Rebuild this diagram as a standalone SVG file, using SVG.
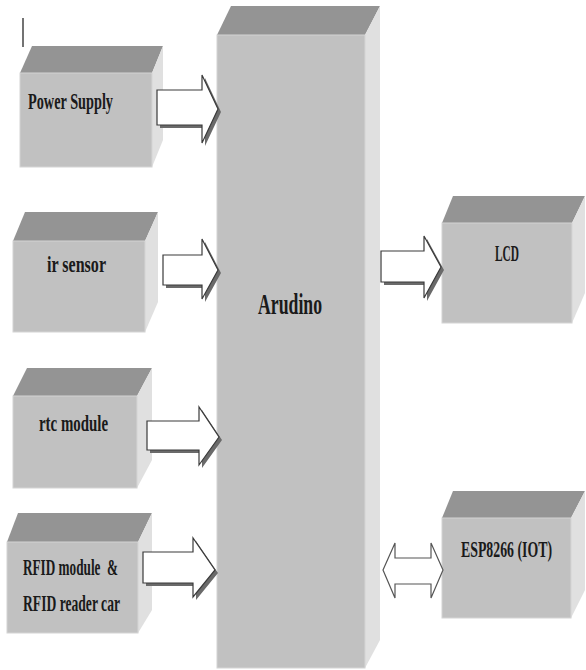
<svg xmlns="http://www.w3.org/2000/svg" width="586" height="670" viewBox="0 0 586 670">
<defs>
<style>
.front{fill:#c1c1c1;stroke:#d4d4d4;stroke-width:1}
.top{fill:#949494}
.side{fill:#e0e0e0}
.lbl{font-family:"Liberation Serif","Times New Roman",serif;font-weight:bold;font-size:23px;fill:#1a1a1a}
.big{font-size:30px}
.arr{fill:#ffffff;stroke:#3a3a3a;stroke-width:1.2;stroke-linejoin:miter}
.shd{fill:#6a6a6a}
.dbl{fill:#ffffff;stroke:#555555;stroke-width:1.2}
</style>
</defs>
<rect width="586" height="670" fill="#ffffff"/>
<line x1="23" y1="18" x2="23" y2="47" stroke="#444444" stroke-width="1.5"/>

<g id="arudino">
<polygon class="top" points="217,35 231,6 380,6 365,35"/>
<polygon class="side" points="365,35 380,6 380,640 365,668"/>
<rect class="front" x="217" y="35" width="148" height="633"/>
<text class="lbl big" transform="translate(258,314) scale(0.65,1)" textLength="98.5" lengthAdjust="spacingAndGlyphs">Arudino</text>
</g>

<g id="power-supply">
<polygon class="top" points="20,73 32,46 163,46 152,73"/>
<polygon class="side" points="152,73 163,46 163,140 152,167"/>
<rect class="front" x="20" y="73" width="132" height="94"/>
<text class="lbl" transform="translate(28,109) scale(0.65,1)" textLength="130.8" lengthAdjust="spacingAndGlyphs">Power Supply</text>
</g>

<g id="ir-sensor">
<polygon class="top" points="13,241 25,212 158,212 145,241"/>
<polygon class="side" points="145,241 158,212 158,302 145,332"/>
<rect class="front" x="13" y="241" width="132" height="91"/>
<text class="lbl" transform="translate(47,272) scale(0.65,1)" textLength="90.8" lengthAdjust="spacingAndGlyphs">ir sensor</text>
</g>

<g id="rtc-module">
<polygon class="top" points="13,396 27,368 152,368 137,396"/>
<polygon class="side" points="137,396 152,368 152,460 137,488"/>
<rect class="front" x="13" y="396" width="124" height="92"/>
<text class="lbl" transform="translate(39,431) scale(0.65,1)" textLength="106.2" lengthAdjust="spacingAndGlyphs">rtc module</text>
</g>

<g id="rfid">
<polygon class="top" points="7,542 18,513 152,513 138,542"/>
<polygon class="side" points="138,542 152,513 152,610 138,633"/>
<rect class="front" x="7" y="542" width="131" height="91"/>
<text class="lbl" transform="translate(23,575) scale(0.65,1)" textLength="146.2" lengthAdjust="spacingAndGlyphs" xml:space="preserve">RFID module  &amp;</text>
<text class="lbl" transform="translate(23,611) scale(0.65,1)" textLength="149.2" lengthAdjust="spacingAndGlyphs">RFID reader car</text>
</g>

<g id="lcd">
<polygon class="top" points="442,223 453,196 585,196 572,223"/>
<polygon class="side" points="572,223 585,196 585,293 572,323"/>
<rect class="front" x="442" y="223" width="130" height="100"/>
<text class="lbl" transform="translate(495,261) scale(0.65,1)" textLength="36.9" lengthAdjust="spacingAndGlyphs">LCD</text>
</g>

<g id="esp8266">
<polygon class="top" points="442,518 453,491 585,491 571,518"/>
<polygon class="side" points="571,518 585,491 585,590 571,618"/>
<rect class="front" x="442" y="518" width="129" height="100"/>
<text class="lbl" transform="translate(461,557) scale(0.65,1)" textLength="140" lengthAdjust="spacingAndGlyphs">ESP8266 (IOT)</text>
</g>

<g id="connectors">
<g transform="translate(3,3)">
<polygon class="shd" points="157,90 202,90 202,75 218,109 202,143 202,125 157,125"/>
<polygon class="shd" points="163,255 202,255 202,239 218,270 202,299 202,285 163,285"/>
<polygon class="shd" points="147,421 199,421 199,407 219,437 199,465 199,450 147,450"/>
<polygon class="shd" points="143,552 193,552 193,538 215,570 193,597 193,583 143,583"/>
<polygon class="shd" points="381,251 424,251 424,236 441,267 424,298 424,282 381,282"/>
</g>
<polygon class="arr" points="157,90 202,90 202,75 218,109 202,143 202,125 157,125"/>
<polygon class="arr" points="163,255 202,255 202,239 218,270 202,299 202,285 163,285"/>
<polygon class="arr" points="147,421 199,421 199,407 219,437 199,465 199,450 147,450"/>
<polygon class="arr" points="143,552 193,552 193,538 215,570 193,597 193,583 143,583"/>
<polygon class="arr" points="381,251 424,251 424,236 441,267 424,298 424,282 381,282"/>
<polygon class="dbl" points="383,570 395,543 395,558 431,558 431,543 443,570 431,598 431,584 395,584 395,598"/>
</g>
</svg>
